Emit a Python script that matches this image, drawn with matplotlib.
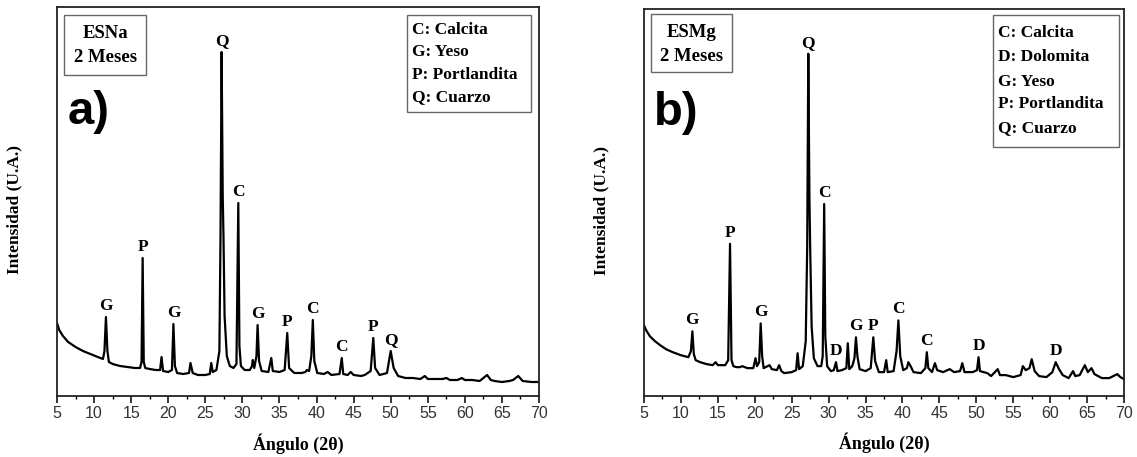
import matplotlib
matplotlib.use("Agg")
import matplotlib.pyplot as plt
from matplotlib.patches import Rectangle
from matplotlib.ticker import MultipleLocator

# XRD traces (2theta, intensity in arbitrary units)
angle_a = [5.0, 5.3, 5.8, 6.5, 7.5, 8.5, 9.5, 10.5, 11.2, 11.4, 11.6, 11.8, 12.0, 12.5, 13.5, 14.5,
           15.5, 16.2, 16.4, 16.55, 16.7, 16.9, 17.5, 18.3, 18.9, 19.1, 19.3, 20.0, 20.5, 20.7, 20.9,
           21.2, 22.0, 22.8, 23.0, 23.3, 24.0, 25.0, 25.6, 25.8, 26.0, 26.5, 26.9, 27.05, 27.2, 27.35,
           27.45, 27.6, 27.9, 28.3, 28.8, 29.2, 29.45, 29.6, 29.8, 30.3, 31.0, 31.3, 31.4, 31.6, 31.9,
           32.05, 32.25, 32.6, 33.5, 33.9, 34.1, 35.0, 35.7, 36.05, 36.3, 37.0, 38.0, 38.5, 38.7, 39.0,
           39.3, 39.5, 39.7, 40.1, 41.0, 41.5, 42.0, 43.1, 43.4, 43.6, 44.2, 44.6, 45.0, 46.0, 46.5,
           47.3, 47.65, 47.9, 48.5, 49.5, 50.0, 50.4, 51.0, 52.0, 53.0, 54.0, 54.6, 55.0, 56.0, 57.0,
           57.5, 58.0, 59.0, 59.6, 60.0, 61.0, 62.0, 63.0, 63.5, 64.0, 65.0, 66.0, 66.5, 67.2, 67.8,
           69.0, 70.0]
inten_a = [73, 66, 60, 54, 49, 45, 42, 39, 37, 45, 79, 45, 34, 32, 30, 29,
           28, 28, 34, 138, 34, 28, 27, 26, 26, 39, 25, 24, 26, 72, 30,
           23, 22, 23, 33, 23, 21, 21, 22, 33, 24, 26, 45, 160, 344, 200,
           160, 80, 40, 30, 28, 32, 193, 50, 30, 26, 26, 30, 36, 28, 40,
           71, 35, 25, 24, 38, 25, 24, 26, 63, 28, 23, 23, 24, 26, 25,
           40, 76, 35, 23, 22, 24, 21, 22, 38, 22, 21, 24, 21, 20, 21,
           25, 58, 28, 21, 23, 45, 28, 20, 18, 18, 17, 20, 17, 17, 17,
           18, 16, 16, 18, 16, 16, 15, 21, 16, 15, 14, 15, 16, 20, 15,
           14, 14]

angle_b = [5.0, 5.3, 5.8, 6.5, 7.2, 8.0, 8.9, 10.0, 11.0, 11.35, 11.55, 11.75, 12.0, 12.6, 13.5, 14.3,
           14.7, 15.0, 16.0, 16.4, 16.65, 16.85, 17.1, 17.5, 18.0, 18.3, 19.0, 19.8, 20.1, 20.3, 20.6,
           20.8, 21.0, 21.2, 22.0, 22.3, 23.0, 23.3, 23.6, 24.0, 25.0, 25.6, 25.8, 26.0, 26.5, 26.9,
           27.1, 27.25, 27.4, 27.5, 27.7, 28.0, 28.5, 29.0, 29.2, 29.4, 29.55, 29.8, 30.3, 30.7, 31.0,
           31.2, 31.8, 32.4, 32.6, 32.8, 33.2, 33.5, 33.7, 33.9, 34.2, 35.0, 35.7, 36.05, 36.3, 36.8,
           37.5, 37.8, 38.0, 38.8, 39.2, 39.45, 39.7, 40.1, 40.6, 40.8, 41.1, 41.5, 42.5, 43.1, 43.3,
           43.5, 44.0, 44.4, 44.7, 45.5, 46.4, 47.0, 47.8, 48.1, 48.4, 49.5, 50.1, 50.3, 50.5, 51.5,
           52.0, 52.9, 53.2, 54.0, 55.0, 56.0, 56.3, 56.7, 57.2, 57.5, 57.9, 58.5, 59.5, 60.3, 60.75,
           61.2, 61.7, 62.5, 63.1, 63.4, 64.0, 64.7, 65.1, 65.6, 66.0, 67.0, 68.0, 69.1, 69.5, 70.0]
inten_b = [71, 66, 60, 55, 51, 47, 44, 41, 39, 45, 65, 42, 36, 34, 32, 31,
           34, 31, 31, 36, 153, 36, 30, 29, 29, 30, 28, 28, 38, 30, 34,
           73, 40, 28, 31, 27, 26, 31, 25, 23, 24, 26, 43, 27, 30, 55,
           150, 344, 200, 150, 70, 38, 30, 30, 40, 193, 60, 30, 25, 26, 34,
           25, 26, 28, 53, 27, 30, 38, 59, 40, 27, 25, 28, 59, 35, 24,
           24, 36, 24, 25, 45, 76, 40, 26, 28, 34, 30, 24, 23, 28, 44,
           28, 24, 33, 26, 24, 27, 24, 25, 33, 24, 24, 26, 39, 25, 23,
           20, 27, 21, 21, 19, 21, 30, 26, 28, 37, 25, 20, 19, 24, 34,
           27, 21, 18, 25, 20, 21, 31, 24, 28, 22, 18, 18, 22, 19, 17]

# phase labels above the peaks
peaks_a = [11.6, 16.55, 20.7, 27.2, 29.45, 32.05, 36.05, 39.5, 43.4, 47.65, 50.0]
phases_a = ["G", "P", "G", "Q", "C", "G", "P", "C", "C", "P", "Q"]
peaks_b = [11.55, 16.65, 20.8, 27.25, 29.4, 31.0, 33.7, 36.05, 39.45, 43.3, 50.3, 60.75]
phases_b = ["G", "P", "G", "Q", "C", "D", "G", "P", "C", "C", "D", "D"]

legend_a = ["C: Calcita", "G: Yeso", "P: Portlandita", "Q: Cuarzo"]
legend_b = ["C: Calcita", "D: Dolomita", "G: Yeso", "P: Portlandita", "Q: Cuarzo"]

SERIF = "Liberation Serif"
SANS = "Liberation Sans"

fig = plt.figure(figsize=(11.37, 4.57), dpi=100)
ax_a = fig.add_axes([57 / 1137, 61 / 457, 482 / 1137, 389 / 457])
ax_b = fig.add_axes([644 / 1137, 61 / 457, 480 / 1137, 387 / 457])


def draw_panel(ax, x, y, peaks, phases, sample, letter, legend, leg_box, leg_rows, tag_box):
    ax.plot(x, y, color="black", lw=1.6)
    ax.set_xlim(5, 70)
    ax.set_ylim(0, 389)
    ax.xaxis.set_major_locator(MultipleLocator(5))
    ax.xaxis.set_minor_locator(MultipleLocator(2.5))
    ax.set_yticks([])
    ax.tick_params(axis="x", which="major", direction="out", length=5, width=1.1,
                   pad=2, labelsize=11.5, labelcolor="#333333")
    ax.tick_params(axis="x", which="minor", direction="out", length=2.5, width=1.0)
    for lab in ax.get_xticklabels():
        lab.set_fontfamily(SANS)
    for sp in ax.spines.values():
        sp.set_linewidth(1.3)
        sp.set_color("#222222")

    # peak letters
    for px, ph in zip(peaks, phases):
        i = min(range(len(x)), key=lambda k: abs(x[k] - px))
        ax.annotate(ph, (x[i], y[i]), xytext=(0, 5), textcoords="offset points",
                    ha="center", va="baseline", fontsize=12.5, fontweight="bold",
                    family=SERIF)

    ax.set_xlabel("Ángulo (2θ)", fontsize=13, fontweight="bold", family=SERIF)
    ax.xaxis.set_label_coords(0.5, -0.095)
    ax.set_ylabel("Intensidad (U.A.)", fontsize=12.5, fontweight="bold", family=SERIF)
    ax.yaxis.set_label_coords(-0.072, 0.48)

    # sample tag box
    x0, y0, x1, y1 = tag_box
    ax.add_patch(Rectangle((x0, y0), x1 - x0, y1 - y0, transform=ax.transAxes,
                           fill=False, ec="#666666", lw=1.0))
    cx = (x0 + x1) / 2
    ax.text(cx, y1 - 0.048, sample, transform=ax.transAxes, ha="center", va="center",
            fontsize=13.5, fontweight="bold", family=SERIF)
    ax.text(cx, y1 - 0.110, "2 Meses", transform=ax.transAxes, ha="center", va="center",
            fontsize=13.5, fontweight="bold", family=SERIF)

    ax.text(x0 + 0.007, 0.70, letter, transform=ax.transAxes, ha="left", va="baseline",
            fontsize=34, fontweight="bold", family=SANS)

    # phase legend box
    x0, y0, x1, y1 = leg_box
    ax.add_patch(Rectangle((x0, y0), x1 - x0, y1 - y0, transform=ax.transAxes,
                           fill=False, ec="#666666", lw=1.0))
    for txt, ry in zip(legend, leg_rows):
        ax.text(x0 + 0.010, ry, txt, transform=ax.transAxes, ha="left", va="center",
                fontsize=12.5, fontweight="bold", family=SERIF)


draw_panel(ax_a, angle_a, inten_a, peaks_a, phases_a, "ESNa", "a)", legend_a,
           (0.726, 0.730, 0.983, 0.979), [0.941, 0.884, 0.825, 0.769],
           (0.0145, 0.825, 0.185, 0.979))
draw_panel(ax_b, angle_b, inten_b, peaks_b, phases_b, "ESMg", "b)", legend_b,
           (0.727, 0.643, 0.990, 0.984), [0.938, 0.876, 0.811, 0.755, 0.693],
           (0.0146, 0.837, 0.183, 0.987))

plt.savefig("out.png", dpi=100)
